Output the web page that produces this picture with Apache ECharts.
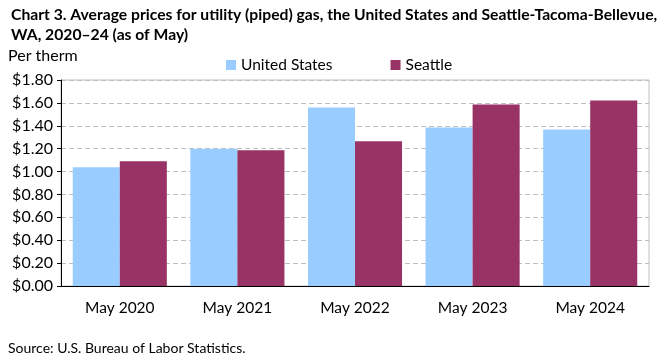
<!DOCTYPE html>
<html><head><meta charset="utf-8">
<script src="https://cdn.jsdelivr.net/npm/echarts@6/dist/echarts.min.js"></script>
<style>html,body{margin:0;padding:0;background:#fff}#c{width:661px;height:361px}</style>
</head><body><div id="c"></div>
<script>
const categories = ['May 2020','May 2021','May 2022','May 2023','May 2024'];
const usValues = [1.038, 1.200, 1.559, 1.386, 1.368];
const seattleValues = [1.090, 1.186, 1.264, 1.586, 1.620];
const yTicks = {min:0, max:1.8, interval:0.2};
const F = 'Lato, "Open Sans", sans-serif';
const chart = echarts.init(document.getElementById('c'));
chart.setOption({
  animation:false,
  title:{text:'Chart 3. Average prices for utility (piped) gas, the United States and Seattle-Tacoma-Bellevue,\nWA, 2020\u201324 (as of May)',
    left:6, top:0, textStyle:{fontFamily:F, fontWeight:'bold', fontSize:15.7, color:'#000', lineHeight:20}},
  graphic:[
    {type:'text', left:8, top:48, style:{text:'Per therm', font:'16px '+F, fill:'#000'}},
    {type:'text', left:8, top:341, style:{text:'Source: U.S. Bureau of Labor Statistics.', font:'14px '+F, fill:'#000'}}
  ],
  legend:{top:52, left:221, itemWidth:10, itemHeight:10, itemGap:58, icon:'rect',
    textStyle:{fontFamily:F, fontSize:15.5, color:'#000'}},
  grid:{left:61, right:12, top:80, bottom:75, show:true, borderColor:'#bfbfbf', borderWidth:1},
  xAxis:{type:'category', data:categories,
    axisLine:{lineStyle:{color:'#000'}}, axisTick:{show:false},
    axisLabel:{fontFamily:F, fontSize:15.5, color:'#000', margin:14}},
  yAxis:{type:'value', min:yTicks.min, max:yTicks.max, interval:yTicks.interval,
    axisLine:{show:true, lineStyle:{color:'#000'}}, axisTick:{show:true, length:4, lineStyle:{color:'#000'}},
    splitLine:{lineStyle:{color:'#bfbfbf', type:[5,3]}},
    axisLabel:{fontFamily:F, fontSize:16, color:'#000', margin:8, formatter:v=>'$'+v.toFixed(2)}},
  series:[
    {name:'United States', type:'bar', data:usValues, itemStyle:{color:'#99ccff'}, barGap:'0%', barCategoryGap:'20%'},
    {name:'Seattle', type:'bar', data:seattleValues, itemStyle:{color:'#993366'}, barGap:'0%', barCategoryGap:'20%'}
  ]
});
</script></body></html>
